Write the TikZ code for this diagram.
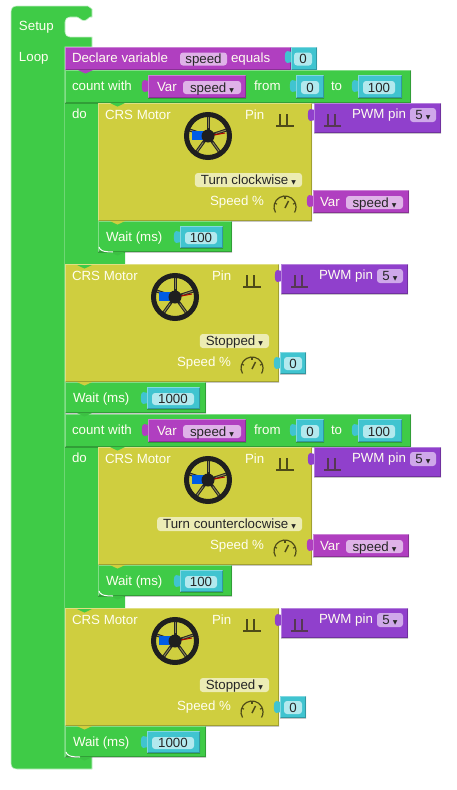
\documentclass[tikz,border=0pt]{standalone}
\usepackage{fontspec}
\setmainfont{Liberation Sans}
\newfontfamily\dropglyph{DejaVu Sans}
\definecolor{blgreen}{HTML}{3FCB47}
\definecolor{blyellow}{HTML}{CFCE3F}
\definecolor{blpurple}{HTML}{B03FC0}
\definecolor{blviolet}{HTML}{9040CC}
\definecolor{blteal}{HTML}{40C4D0}
\definecolor{fldteal}{HTML}{B2E9EE}
\definecolor{fldpurple}{HTML}{DFB2E8}
\definecolor{fldviolet}{HTML}{CFA8EA}
\definecolor{fldyellow}{HTML}{ECECB4}
\definecolor{olive}{HTML}{4E4B18}
\definecolor{spoke}{HTML}{8E8A50}
\newcommand{\dropmark}{\hspace{3pt}{\dropglyph\fontsize{6}{6}\selectfont ▼}}

\begin{document}
\begin{tikzpicture}[
    x=1pt, y=-1pt,
    % Block bodies
    boxsize/.style 2 args={minimum width=#1pt, minimum height=#2pt},
    bevel/.style={
        path picture={
            \draw[black, opacity=0.22, line width=1.6pt] (path picture bounding box.south west)
                -- (path picture bounding box.south east) -- (path picture bounding box.north east);
            \draw[white, opacity=0.35, line width=1.6pt] (path picture bounding box.south west)
                -- (path picture bounding box.north west) -- (path picture bounding box.north east);
        }
    },
    block/.style={rectangle, anchor=north west, inner sep=0pt, outer sep=0pt, bevel},
    greenblock/.style={block, fill=blgreen},
    motorblock/.style={block, fill=blyellow, boxsize={214}{118}},
    purpleblock/.style={block, fill=blpurple},
    violetblock/.style={block, fill=blviolet, boxsize={127}{30}},
    tealblock/.style={block, fill=blteal},
    % Editable fields
    field/.style={rectangle, rounded corners=3pt, inner sep=0pt, outer sep=0pt, anchor=north west,
        text height=9.5pt, text depth=.5pt, text=black!85, font=\fontsize{13.3}{15}\selectfont},
    tealfield/.style={field, fill=fldteal},
    purplefield/.style={field, fill=fldpurple},
    violetfield/.style={field, fill=fldviolet},
    yellowfield/.style={field, fill=fldyellow, anchor=north east, minimum height=14pt},
    % Labels
    label/.style={anchor=west, inner sep=0pt, outer sep=0pt, text height=9.5pt, text depth=0pt,
        text=white!94!yellow, font=\fontsize{13.3}{15}\selectfont},
    % Block connectors
    nub/.pic={\path[pic actions] (0,0) .. controls (3,0) and (4,3.5) .. (7.5,3.5)
        .. controls (11,3.5) and (12,0) .. (15,0) -- cycle;},
    plug/.pic={\path[pic actions] (1,1) .. controls (-1,1) and (-2,0) .. (-4,0)
        .. controls (-7,0) and (-7,12) .. (-4,12) .. controls (-2,12) and (-1,11) .. (1,11) -- cycle;},
    % Icons
    pulseline/.style={line width=1.2pt, line join=miter},
    gaugeline/.style={line width=1.2pt, color=olive}
]
\useasboundingbox (0,0) rectangle (456,790);

% Setup / Loop frame
\path[fill=blgreen, draw=white!70!blgreen, line width=.6pt] (17,6) -- (88,6) -- (92,9) -- (92,17) -- (90,17)
    .. controls (88,17) and (88,20.5) .. (84,20.5) .. controls (80,20.5) and (80,17) .. (77,17)
    -- (70,17) .. controls (67,17) and (65,19) .. (65,22) -- (65,32) .. controls (65,35) and (67,37) .. (70,37)
    -- (92,37) -- (92,47) -- (65,47) -- (65,757) -- (92,757) -- (92,769) -- (17,769)
    .. controls (13,769) and (11,767) .. (11,763) -- (11,12) .. controls (11,8) and (13,6) .. (17,6) -- cycle;
\node[label] (setup) at (19,26) {Setup};
\node[label] (loop) at (19,57) {Loop};

% Declare variable
\node[purpleblock, boxsize={226}{23}] (declare) at (65,47) {};
\node[label] (declaretxt) at (72,58) {Declare variable};
\node[purplefield, boxsize={47}{13}] (declarevar) at (180,52.5) {speed};
\node[label] (equals) at (231,58) {equals};
\pic[fill=blteal] at (291,51) {plug};
\node[tealblock, boxsize={26}{23}] (declareval) at (291,47) {};
\node[tealfield, boxsize={18}{13}] (declarezero) at (294,52.5) {0};

% Count blocks
\foreach \i/\dy in {1/0, 2/344} {
\begin{scope}[shift={(0,\dy)}]
    \path[fill=blgreen] (65,103) -- (98,103) -- (98,252) -- (125,252) -- (125,265) -- (65,265) -- cycle;
    \node[greenblock, boxsize={346}{33}] (count\i) at (65,70) {};
    \node[label] (countwith\i) at (72,86) {count with};
    \pic[fill=blpurple] at (148,80) {plug};
    \node[purpleblock, boxsize={98}{23}] (countvar\i) at (148,75) {};
    \node[label] (vartxt\i) at (157,87) {Var};
    \node[purplefield, boxsize={58}{13}] (varname\i) at (183,81) {speed\dropmark};
    \node[label] (from\i) at (254,86) {from};
    \pic[fill=blteal] at (296,80) {plug};
    \node[tealblock, boxsize={28}{23}] (fromval\i) at (296,75) {};
    \node[tealfield, boxsize={18}{13}] (fromzero\i) at (301,81) {0};
    \node[label] (to\i) at (331,86) {to};
    \pic[fill=blteal] at (358,80) {plug};
    \node[tealblock, boxsize={44}{23}] (toval\i) at (358,75) {};
    \node[tealfield, boxsize={32}{13}] (tohundred\i) at (363,81) {100};
    \node[label] (do\i) at (72,114) {do};
\end{scope}
}

% Motor blocks
\foreach \i/\ox/\oy/\mode/\waitw/\waittxt/\fldw in {
    1/98/103/Turn clockwise/134/100/32,
    2/65/264/Stopped/141/1000/42,
    3/98/447/Turn counterclocwise/134/100/32,
    4/65/608/Stopped/141/1000/42} {
\begin{scope}[shift={(\ox,\oy)}]
    \node[motorblock] (motor\i) at (0,0) {};
    \node[label] (motorname\i) at (7,12) {CRS Motor};
    \node[label] (pin\i) at (147,12) {Pin};
    \draw[pulseline, olive] (178,23) -- (182,23) -- (182,11) -- (182,23) -- (189,23)
        -- (189,11) -- (189,23) -- (196,23);
    % wheel
    \begin{scope}[shift={(110,33)}]
        \foreach \a in {270, 342, 54, 126, 198} {
            \draw[black!85, line width=3pt] (\a:6) -- (\a:21);
            \draw[spoke, line width=.9pt] (\a:8) -- (\a:19);
        }
        \fill[blue!60!cyan!90!black] (-16,-5) rectangle (-3,4);
        \draw[red!70!black, line width=1pt] (6,-1) -- (17,-3);
        \fill[black!88] (0,0) circle (6.5);
        \draw[black!88, line width=5pt] (0,0) circle (21.5);
    \end{scope}
    \node[yellowfield, align=center, minimum width=1pt, inner xsep=6pt] (mode\i) at (204,70) {\mode\dropmark};
    \node[label] (speedtxt\i) at (112,98) {Speed \%};
    % gauge
    \begin{scope}[shift={(187,104)}]
        \draw[gaugeline] (150:11) arc[start angle=150, end angle=390, radius=11];
        \foreach \a in {200, 270, 340} {
            \draw[gaugeline] (\a:11) -- (\a:8.5);
        }
        \draw[gaugeline, line width=1.5pt] (0,1) -- (300:7);
    \end{scope}
    % pwm pin
    \pic[fill=blviolet] at (216,6) {plug};
    \node[violetblock] (pwm\i) at (216,0) {};
    \draw[pulseline, olive!55!blviolet!80!black] (226,23) -- (230,23) -- (230,11) -- (230,23) -- (237,23)
        -- (237,11) -- (237,23) -- (243,23);
    \node[label] (pwmtxt\i) at (254,11) {PWM pin};
    \node[violetfield, boxsize={26}{14}] (pwmval\i) at (312,5) {5\dropmark};
    % wait
    \node[greenblock, boxsize={\waitw}{31}] (wait\i) at (0,118) {};
    \node[label] (waittxt\i) at (8,134) {Wait (ms)};
    \pic[fill=blteal] at (82,128) {plug};
    \node[tealblock, boxsize={\fldw+11}{22}] (waitval\i) at (82,123) {};
    \node[tealfield, boxsize={\fldw}{12}] (waitfld\i) at (87,129) {\waittxt};
    \pic[fill=blyellow] at (12,118) {nub};
    \pic[fill=blgreen!95!black] at (12,149) {nub};
\end{scope}
}

% Speed values
\foreach \i/\ox/\oy in {1/98/103, 3/98/447} {
\begin{scope}[shift={(\ox,\oy)}]
    \pic[fill=blpurple] at (215,92) {plug};
    \node[purpleblock, boxsize={96}{23}] (speedvar\i) at (215,87) {};
    \node[label] (speedvartxt\i) at (222,99) {Var};
    \node[purplefield, boxsize={57}{13}] (speedname\i) at (248,93) {speed\dropmark};
\end{scope}
}
\foreach \i/\ox/\oy in {2/65/264, 4/65/608} {
\begin{scope}[shift={(\ox,\oy)}]
    \pic[fill=blteal] at (215,93) {plug};
    \node[tealblock, boxsize={26}{22}] (speedval\i) at (215,88) {};
    \node[tealfield, boxsize={18}{13}] (speedzero\i) at (219,93) {0};
\end{scope}
}

% Notches
\pic[fill=blpurple] at (78,70) {nub};
\foreach \ny in {103, 447} {
    \pic[fill=blgreen] at (110,\ny) {nub};
}
\foreach \ny in {265, 609} {
    \pic[fill=blgreen] at (77,\ny) {nub};
}
\draw[white, line width=1pt] (99,247) .. controls (100,250) and (102,252) .. (113,252);
\draw[white, line width=1pt] (99,591) .. controls (100,594) and (102,596) .. (113,596);
\draw[white, line width=1pt] (66,752) .. controls (67,755) and (69,757) .. (80,757);

\end{tikzpicture}
\end{document}
